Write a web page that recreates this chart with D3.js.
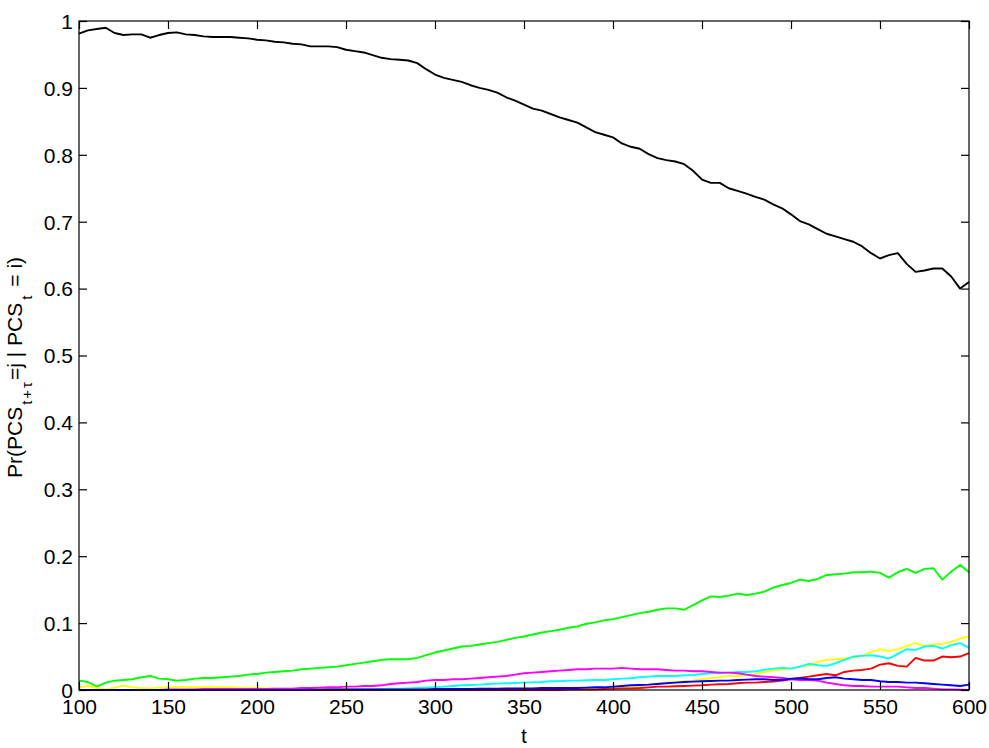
<!DOCTYPE html>
<html>
<head>
<meta charset="utf-8">
<script src="https://cdn.jsdelivr.net/npm/d3@7"></script>
<style>
html,body{margin:0;padding:0;background:#fff;}
svg{display:block;font-family:"Liberation Sans",Arial,Helvetica,sans-serif;}
</style>
</head>
<body>
<svg id="chart" width="989" height="748"></svg>
<script>
// time grid (t = 100 ... 600, every 5)
const tValues = d3.range(100, 601, 5);

const xTicks = [100,150,200,250,300,350,400,450,500,550,600];
const yTicks = [0,0.1,0.2,0.3,0.4,0.5,0.6,0.7,0.8,0.9,1];
const yTickLabels = ["0","0.1","0.2","0.3","0.4","0.5","0.6","0.7","0.8","0.9","1"];

const seriesBlack = [
0.981,0.986,0.988,0.990,0.982,0.979,0.980,0.980,0.975,0.979,
0.982,0.983,0.980,0.979,0.977,0.976,0.976,0.976,0.975,0.974,
0.972,0.971,0.969,0.968,0.966,0.965,0.962,0.962,0.962,0.961,
0.957,0.955,0.953,0.949,0.945,0.943,0.942,0.941,0.937,0.928,
0.920,0.915,0.912,0.909,0.904,0.900,0.897,0.893,0.886,0.881,
0.875,0.869,0.866,0.861,0.856,0.852,0.848,0.841,0.834,0.830,
0.826,0.817,0.812,0.809,0.801,0.795,0.792,0.790,0.786,0.776,
0.763,0.758,0.758,0.750,0.746,0.742,0.737,0.733,0.726,0.720,
0.711,0.701,0.696,0.689,0.682,0.678,0.674,0.670,0.663,0.653,
0.645,0.650,0.653,0.637,0.625,0.627,0.630,0.630,0.618,0.600,
0.610];

const seriesGreen = [
0.014,0.012,0.005,0.011,0.014,0.015,0.016,0.019,0.021,0.017,
0.016,0.014,0.015,0.017,0.018,0.018,0.019,0.020,0.021,0.023,
0.024,0.026,0.027,0.028,0.029,0.031,0.032,0.033,0.034,0.035,
0.037,0.039,0.041,0.043,0.045,0.046,0.046,0.046,0.048,0.052,
0.056,0.059,0.062,0.065,0.066,0.068,0.070,0.072,0.075,0.078,
0.080,0.083,0.086,0.088,0.090,0.093,0.095,0.099,0.101,0.104,
0.106,0.109,0.112,0.115,0.117,0.120,0.122,0.122,0.120,0.127,
0.134,0.140,0.139,0.141,0.144,0.142,0.144,0.147,0.153,0.157,
0.160,0.165,0.163,0.166,0.172,0.173,0.174,0.176,0.176,0.177,
0.175,0.168,0.176,0.181,0.175,0.181,0.182,0.165,0.177,0.187,
0.176];

const seriesYellow = [
0.004,0.006,0.003,0.001,0.0035,0.0065,0.004,0.003,0.0025,0.0035,
0.004,0.004,0.004,0.004,0.004,0.004,0.004,0.004,0.0035,0.003,
0.003,0.0025,0.0025,0.002,0.002,0.002,0.002,0.002,0.0015,0.0015,
0.0015,0.001,0.001,0.001,0.001,0.0015,0.0015,0.0015,0.0015,0.0015,
0.0015,0.0015,0.0015,0.002,0.002,0.002,0.002,0.002,0.002,0.002,
0.002,0.002,0.002,0.002,0.002,0.002,0.0025,0.003,0.003,0.0035,
0.0035,0.004,0.005,0.006,0.008,0.010,0.011,0.012,0.013,0.014,
0.016,0.0175,0.019,0.021,0.021,0.022,0.024,0.027,0.029,0.031,
0.032,0.035,0.037,0.042,0.045,0.046,0.047,0.049,0.051,0.057,
0.061,0.058,0.061,0.066,0.070,0.066,0.068,0.069,0.072,0.077,
0.080];

const seriesCyan = [
0,0,0,0,0,0,0,0,0,0,
0,0,0,0,0,0,0,0,0,0,
0,0,0,0,0,0,0,0,0,0.0005,
0.0005,0.001,0.001,0.001,0.0015,0.002,0.002,0.0025,0.003,0.0035,
0.004,0.005,0.006,0.007,0.0075,0.008,0.009,0.0095,0.010,0.0105,
0.011,0.0115,0.012,0.013,0.013,0.014,0.014,0.0145,0.015,0.015,
0.016,0.017,0.0175,0.019,0.020,0.021,0.021,0.021,0.022,0.0225,
0.024,0.025,0.025,0.026,0.027,0.027,0.028,0.030,0.032,0.033,
0.032,0.035,0.039,0.037,0.036,0.040,0.045,0.050,0.051,0.052,
0.050,0.047,0.054,0.061,0.060,0.065,0.066,0.062,0.067,0.070,
0.063];

const seriesMagenta = [
0,0,0,0,0,0,0,0,0,0,
0.001,0.001,0.001,0.001,0.0015,0.0015,0.0015,0.0015,0.0015,0.0015,
0.0015,0.0015,0.002,0.002,0.002,0.003,0.003,0.0035,0.004,0.004,
0.005,0.005,0.006,0.006,0.007,0.009,0.010,0.011,0.012,0.014,
0.015,0.015,0.016,0.016,0.017,0.018,0.019,0.020,0.021,0.023,
0.025,0.026,0.027,0.028,0.029,0.030,0.031,0.031,0.032,0.032,
0.032,0.033,0.032,0.031,0.031,0.031,0.030,0.029,0.029,0.028,
0.028,0.027,0.026,0.026,0.025,0.023,0.021,0.020,0.019,0.018,
0.016,0.015,0.015,0.014,0.011,0.009,0.007,0.006,0.006,0.005,
0.005,0.005,0.005,0.004,0.003,0.003,0.002,0.001,0.001,0.0005,
0];

const seriesRed = [
0,0,0,0,0,0,0,0,0,0,
0,0,0,0,0,0,0,0,0,0,
0,0,0,0,0,0,0,0,0,0,
0,0,0,0,0,0,0,0,0,0,
0,0,0,0,0,0,0,0,0,0,
0,0,0,0,0,0.0005,0.0005,0.001,0.001,0.0015,
0.002,0.0025,0.0025,0.003,0.004,0.005,0.005,0.0055,0.006,0.0065,
0.007,0.008,0.0085,0.009,0.010,0.011,0.011,0.012,0.0125,0.014,
0.016,0.018,0.020,0.022,0.024,0.022,0.027,0.029,0.030,0.032,
0.038,0.040,0.036,0.035,0.048,0.044,0.044,0.050,0.049,0.050,
0.055];

const seriesBlue = [
0,0,0,0,0,0,0,0,0,0,
0,0,0,0,0,0,0,0,0,0,
0,0,0,0,0,0,0.0005,0.0005,0.001,0.001,
0.001,0.001,0.001,0.001,0.001,0.001,0.001,0.001,0.001,0.001,
0.0015,0.0015,0.0015,0.0015,0.0015,0.002,0.002,0.002,0.0025,0.0025,
0.0025,0.0025,0.003,0.003,0.003,0.003,0.003,0.0035,0.004,0.004,
0.005,0.006,0.007,0.0075,0.008,0.009,0.010,0.011,0.012,0.0125,
0.013,0.0135,0.014,0.014,0.015,0.0155,0.016,0.016,0.015,0.015,
0.017,0.0175,0.016,0.016,0.018,0.019,0.017,0.016,0.015,0.015,
0.013,0.012,0.012,0.011,0.011,0.010,0.009,0.008,0.007,0.006,
0.008];

const seriesList = [
  {name:"black", values: seriesBlack, color:"#000000"},
  {name:"green", values: seriesGreen, color:"#00ff00"},
  {name:"yellow", values: seriesYellow, color:"#ffff00"},
  {name:"cyan", values: seriesCyan, color:"#00ffff"},
  {name:"magenta", values: seriesMagenta, color:"#ff00ff"},
  {name:"red", values: seriesRed, color:"#ff0000"},
  {name:"blue", values: seriesBlue, color:"#0000ff"}
];

const svg = d3.select("#chart");
const m = {left:79, right:969, top:21, bottom:690};

const x = d3.scaleLinear().domain([100,600]).range([m.left, m.right]);
const y = d3.scaleLinear().domain([0,1]).range([m.bottom, m.top]);

const line = d3.line()
  .x((d,i) => x(tValues[i]))
  .y(d => y(d));

const gLines = svg.append("g");
seriesList.forEach(s => {
  gLines.append("path")
    .datum(s.values)
    .attr("fill","none")
    .attr("stroke", s.color)
    .attr("stroke-width", 1.9)
    .attr("stroke-linejoin","round")
    .attr("d", line);
});

const fs = 21;
const ff = '"Liberation Sans",Arial,Helvetica,sans-serif';
// bottom axis (ticks inward)
const xAxisB = svg.append("g").attr("transform",`translate(0,${m.bottom})`)
  .call(d3.axisBottom(x).tickValues(xTicks).tickSize(-8).tickPadding(9).tickFormat(d3.format("d")));
const xAxisT = svg.append("g").attr("transform",`translate(0,${m.top})`)
  .call(d3.axisTop(x).tickValues(xTicks).tickSize(-8).tickFormat(""));
const yAxisL = svg.append("g").attr("transform",`translate(${m.left},0)`)
  .call(d3.axisLeft(y).tickValues(yTicks).tickSize(-8).tickPadding(6).tickFormat((d,i)=>yTickLabels[i]));
const yAxisR = svg.append("g").attr("transform",`translate(${m.right},0)`)
  .call(d3.axisRight(y).tickValues(yTicks).tickSize(-8).tickFormat(""));

[xAxisB,xAxisT,yAxisL,yAxisR].forEach(g=>{
  g.select(".domain").remove();
  g.selectAll(".tick line").attr("stroke","#000").attr("stroke-width",1.2);
  g.selectAll("text").attr("font-size",fs).attr("fill","#000").attr("font-family",ff);
});
yAxisL.selectAll("text").attr("dy","0.35em");

// box
svg.append("rect")
  .attr("x", m.left).attr("y", m.top)
  .attr("width", m.right-m.left).attr("height", m.bottom-m.top)
  .attr("fill","none").attr("stroke","#000").attr("stroke-width",1.2);

// x label
svg.append("text")
  .attr("x", (m.left+m.right)/2).attr("y", 743)
  .attr("text-anchor","middle").attr("font-size",fs).attr("font-family",ff).text("t");

// y label
const yl = svg.append("text")
  .attr("transform",`translate(22,478) rotate(-90)`)
  .attr("text-anchor","start").attr("font-size",fs).attr("font-family",ff);
yl.append("tspan").text("Pr(PCS");
yl.append("tspan").attr("font-size",15).attr("dx",2).attr("dy",10).attr("letter-spacing",2).text("t+τ");
yl.append("tspan").attr("dy",-10).text("=j | PCS");
yl.append("tspan").attr("font-size",15).attr("dx",3).attr("dy",10).text("t");
yl.append("tspan").attr("dx",3).attr("dy",-10).text(" = i)");
</script>
</body>
</html>
